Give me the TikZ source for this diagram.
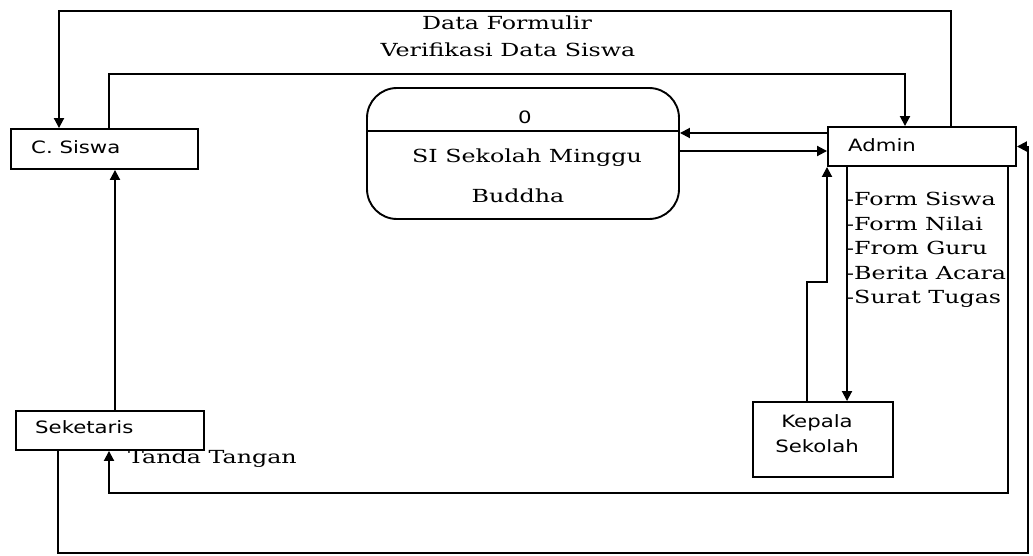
\documentclass[tikz,border=0pt]{standalone}
\usepackage{fontspec}
\usetikzlibrary{arrows.meta}
\newfontfamily\serlbl[FakeStretch=1.32]{DejaVu Serif}
\newfontfamily\sanlbl[FakeStretch=1.25]{DejaVu Sans}
\begin{document}
\begin{tikzpicture}[x=1pt,y=-1pt,
  box/.style={draw, line width=1.9pt, rectangle, inner sep=0pt},
  ln/.style={draw, line width=1.9pt},
  arr/.style={draw, line width=1.9pt, -{Triangle[length=10pt,width=10pt]}},
  txt/.style={font=\serlbl\fontsize{18}{24.5}\selectfont, inner sep=0pt},
  stx/.style={font=\sanlbl\fontsize{17}{25}\selectfont, inner sep=0pt}]
\useasboundingbox[fill=white] (0,0) rectangle (1033,556);

% entities
\node[box, minimum width=187pt, minimum height=40pt] (csiswa) at (104.5,149) {};
\node[stx, anchor=west] (csiswaT) at (31,147) {C. Siswa};
\node[box, minimum width=188pt, minimum height=39pt] (admin) at (922,146.5) {};
\node[stx, anchor=west] (adminT) at (848,145) {Admin};
\node[box, minimum width=188pt, minimum height=39pt] (sek) at (110,430.5) {};
\node[stx, anchor=west] (sekT) at (35,427) {Seketaris};
\node[box, minimum width=140pt, minimum height=75pt] (kep) at (823,439.5) {};
\node[stx, align=center] (kepT) at (817,434) {Kepala\\Sekolah};

% process
\node[box, rounded corners=30pt, minimum width=312pt, minimum height=131pt] (proc) at (523,153.5) {};
\coordinate (d) at (0,131);
\draw[ln] (proc.west |- d) -- (proc.east |- d);
\node[stx] (procN) at (525,117) {0};
\node[txt] (procT1) at (527,158) {SI Sekolah Minggu};
\node[txt] (procT2) at (518,196) {Buddha};

% labels
\node[txt] (lblDF) at (507,23) {Data Formulir};
\node[txt] (lblVD) at (508,50) {Verifikasi Data Siswa};
\node[txt, anchor=north west, align=left] (lblForms) at (846,192)
  {-Form Siswa\\-Form Nilai\\-From Guru\\-Berita Acara\\-Surat Tugas};
\node[txt, anchor=west] (lblTT) at (128,459) {Tanda Tangan};

% Admin -> C. Siswa (Data Formulir)
\coordinate (t1) at (951,11);
\coordinate (t2) at (59,11);
\draw[arr] (t1 |- admin.north) -- (t1) -- (t2) -- (t2 |- csiswa.north);

% C. Siswa -> Admin (Verifikasi Data Siswa)
\coordinate (v1) at (109,74);
\coordinate (v2) at (905,74);
\draw[arr] (v1 |- csiswa.north) -- (v1) -- (v2) -- (v2 |- admin.north);

% Admin <-> process
\coordinate (a1) at (0,133);
\draw[arr] (admin.west |- a1) -- (proc.east |- a1);
\coordinate (p1) at (0,151);
\draw[arr] (proc.east |- p1) -- (admin.west |- p1);

% Admin -> Kepala Sekolah
\coordinate (k1) at (847,0);
\draw[arr] (k1 |- admin.south) -- (k1 |- kep.north);

% Kepala Sekolah -> Admin
\coordinate (k3) at (807,282);
\coordinate (k4) at (827,282);
\draw[arr] (k3 |- kep.north) -- (k3) -- (k4) -- (k4 |- admin.south);

% Seketaris -> C. Siswa
\coordinate (s1) at (115,0);
\draw[arr] (s1 |- sek.north) -- (s1 |- csiswa.south);

% Admin -> Seketaris (Tanda Tangan)
\coordinate (b1) at (1008,493);
\coordinate (b2) at (109,493);
\draw[arr] (b1 |- admin.south) -- (b1) -- (b2) -- (b2 |- sek.south);

% Seketaris -> Admin
\coordinate (c1) at (58,553);
\coordinate (c2) at (1028,553);
\draw[arr] (c1 |- sek.south) -- (c1) -- (c2) -- (c2 |- admin.east) -- (admin.east);
\end{tikzpicture}
\end{document}
